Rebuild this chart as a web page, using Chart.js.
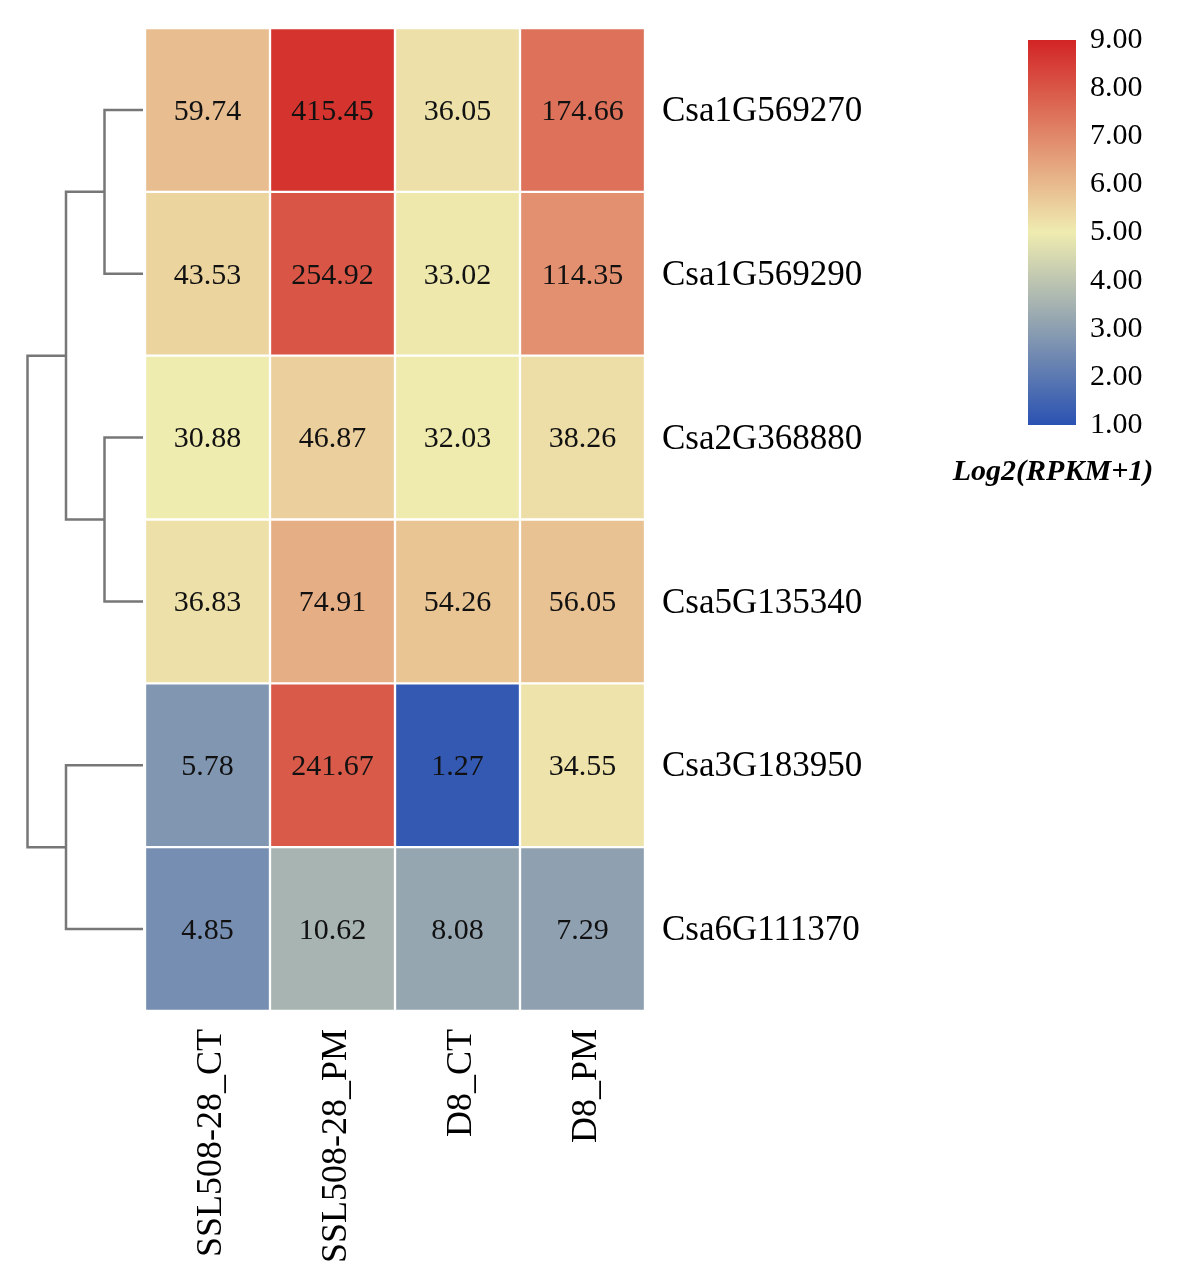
<!DOCTYPE html>
<html>
<head>
<meta charset="utf-8">
<script src="https://cdn.jsdelivr.net/npm/chart.js@4.4.1/dist/chart.umd.min.js"></script>
<style>
  body { margin: 0; background: #fff; }
  #wrap { position: relative; width: 1181px; height: 1288px; }
  #heat { position: absolute; left: 0; top: 0; }
  #bar { position: absolute; left: 900px; top: 0; }
</style>
</head>
<body>
<div id="wrap">
  <canvas id="heat" width="1181" height="1288"></canvas>
  <canvas id="bar" width="281" height="500"></canvas>
</div>
<script>
// ----- data -----
const samples = ['SSL508-28_CT', 'SSL508-28_PM', 'D8_CT', 'D8_PM'];
const genes = ['Csa1G569270', 'Csa1G569290', 'Csa2G368880', 'Csa5G135340', 'Csa3G183950', 'Csa6G111370'];
const rpkm = [
  [59.74, 415.45, 36.05, 174.66],
  [43.53, 254.92, 33.02, 114.35],
  [30.88, 46.87, 32.03, 38.26],
  [36.83, 74.91, 54.26, 56.05],
  [5.78, 241.67, 1.27, 34.55],
  [4.85, 10.62, 8.08, 7.29]
];
// row dendrogram: [left, right, height]; ids >= 6 are earlier merges
const merges = [
  [0, 1, 1],
  [2, 3, 1],
  [4, 5, 2],
  [6, 7, 2],
  [9, 8, 3]
];
const scaleMin = 1, scaleMax = 9;
const colorStops = [
  [1, [42, 82, 178]],
  [5, [239, 236, 176]],
  [9, [210, 36, 36]]
];
const keyTitle = 'Log2(RPKM+1)';

const FONT = '"Liberation Serif", "Times New Roman", serif';

function colorFor(v) {
  if (v <= colorStops[0][0]) return 'rgb(' + colorStops[0][1].join(',') + ')';
  for (let i = 1; i < colorStops.length; i++) {
    const [v1, c1] = colorStops[i];
    const [v0, c0] = colorStops[i - 1];
    if (v <= v1) {
      const t = (v - v0) / (v1 - v0);
      const c = c0.map((x, k) => Math.round(x + (c1[k] - x) * t));
      return 'rgb(' + c.join(',') + ')';
    }
  }
  return 'rgb(' + colorStops[colorStops.length - 1][1].join(',') + ')';
}

const datasets = genes.map((g, r) => ({
  label: g,
  data: samples.map(() => 1),
  backgroundColor: rpkm[r].map(v => colorFor(Math.log2(v + 1))),
  borderColor: '#ffffff',
  borderWidth: 1.5,
  borderSkipped: false,
  barPercentage: 1,
  categoryPercentage: 1
}));

// cell text
const cellText = {
  id: 'cellText',
  afterDatasetsDraw(chart) {
    const ctx = chart.ctx;
    ctx.save();
    ctx.font = '30px ' + FONT;
    ctx.fillStyle = '#111';
    ctx.textAlign = 'center';
    ctx.textBaseline = 'middle';
    chart.data.datasets.forEach((ds, r) => {
      chart.getDatasetMeta(r).data.forEach((el, c) => {
        const p = el.getCenterPoint();
        ctx.fillText(rpkm[r][c].toFixed(2), p.x, p.y + 2);
      });
    });
    ctx.restore();
  }
};

// dendrogram on the left
const dendro = {
  id: 'dendro',
  afterDraw(chart) {
    const ctx = chart.ctx;
    const yS = chart.scales.y;
    const x0 = chart.chartArea.left - 2;
    const unit = 38.5;
    const nodes = genes.map((g, i) => ({ x: x0, y: yS.getPixelForValue(i + 0.5) }));
    ctx.save();
    ctx.strokeStyle = '#777';
    ctx.lineWidth = 2.5;
    merges.forEach(([a, b, h]) => {
      const xn = x0 - h * unit;
      const A = nodes[a], B = nodes[b];
      ctx.beginPath();
      ctx.moveTo(A.x, A.y);
      ctx.lineTo(xn, A.y);
      ctx.lineTo(xn, B.y);
      ctx.lineTo(B.x, B.y);
      ctx.stroke();
      nodes.push({ x: xn, y: (A.y + B.y) / 2 });
    });
    ctx.restore();
  }
};

new Chart(document.getElementById('heat'), {
  type: 'bar',
  data: { labels: samples, datasets: datasets },
  options: {
    responsive: false,
    animation: false,
    devicePixelRatio: 1,
    layout: { padding: { left: 145, top: 28, right: 0, bottom: 0 } },
    plugins: { legend: { display: false }, tooltip: { enabled: false } },
    scales: {
      x: {
        stacked: true,
        grid: { display: false, drawTicks: false },
        border: { display: false },
        ticks: {
          maxRotation: 90, minRotation: 90, padding: 18, labelOffset: 4,
          color: '#000', font: { family: FONT, size: 36 }
        },
        afterFit(axis) { axis.height = 277; axis.paddingLeft = 0; axis.paddingRight = 0; }
      },
      y: {
        stacked: true,
        position: 'right',
        reverse: true,
        min: 0, max: 6,
        grid: { display: false, drawTicks: false },
        border: { display: false },
        afterBuildTicks(axis) { axis.ticks = genes.map((g, i) => ({ value: i + 0.5 })); },
        ticks: {
          padding: 17, labelOffset: 2,
          color: '#000', font: { family: FONT, size: 35 },
          callback: (v, i) => genes[i]
        },
        afterFit(axis) { axis.width = 536; axis.paddingTop = 0; axis.paddingBottom = 0; }
      }
    }
  },
  plugins: [cellText, dendro]
});

// ----- colour key -----
const keyTitlePlugin = {
  id: 'keyTitle',
  afterDraw(chart) {
    const ctx = chart.ctx;
    const a = chart.chartArea;
    ctx.save();
    ctx.font = 'italic bold 30px ' + FONT;
    ctx.fillStyle = '#000';
    ctx.textAlign = 'center';
    ctx.textBaseline = 'middle';
    ctx.fillText(keyTitle, (a.left + a.right) / 2 + 1, a.bottom + 47);
    ctx.restore();
  }
};

new Chart(document.getElementById('bar'), {
  type: 'bar',
  data: {
    labels: [''],
    datasets: [{
      data: [[scaleMin, scaleMax]],
      backgroundColor(c) {
        const area = c.chart.chartArea;
        if (!area) return '#ccc';
        const y = c.chart.scales.y;
        const g = c.chart.ctx.createLinearGradient(0, y.getPixelForValue(scaleMin), 0, y.getPixelForValue(scaleMax));
        colorStops.forEach(([v, col]) => g.addColorStop((v - scaleMin) / (scaleMax - scaleMin), 'rgb(' + col.join(',') + ')'));
        return g;
      },
      borderWidth: 0,
      barPercentage: 1,
      categoryPercentage: 1
    }]
  },
  options: {
    responsive: false,
    animation: false,
    devicePixelRatio: 1,
    layout: { padding: { left: 128, top: 40, right: 0, bottom: 0 } },
    plugins: { legend: { display: false }, tooltip: { enabled: false } },
    scales: {
      x: {
        grid: { display: false, drawTicks: false },
        border: { display: false },
        ticks: { display: false },
        afterFit(axis) { axis.height = 75; }
      },
      y: {
        position: 'right',
        min: scaleMin, max: scaleMax,
        grid: { display: false, drawTicks: false },
        border: { display: false },
        ticks: {
          stepSize: 1, padding: 14,
          color: '#000', font: { family: FONT, size: 30 },
          callback: v => Number(v).toFixed(2)
        },
        afterFit(axis) { axis.width = 105; axis.paddingTop = 0; axis.paddingBottom = 0; }
      }
    }
  },
  plugins: [keyTitlePlugin]
});
</script>
</body>
</html>
